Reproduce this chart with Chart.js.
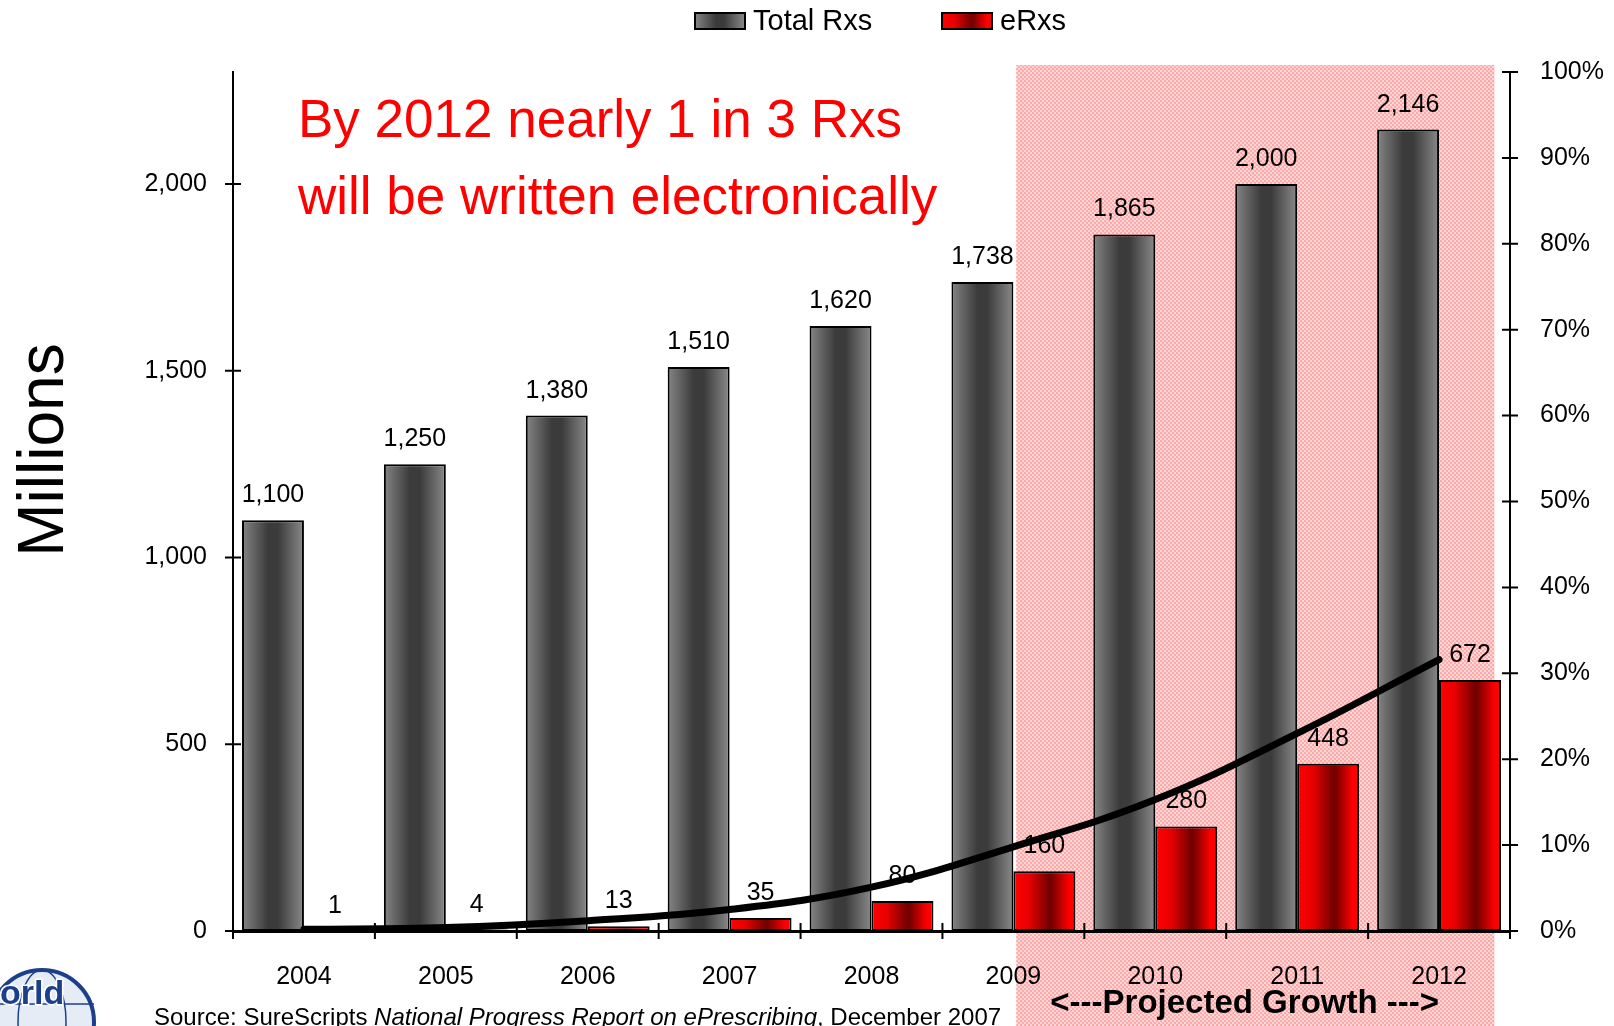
<!DOCTYPE html>
<html>
<head>
<meta charset="utf-8">
<script src="https://cdn.jsdelivr.net/npm/chart.js@4.4.1/dist/chart.umd.min.js"></script>
<style>
  html, body { margin: 0; padding: 0; background: #fff; }
  #wrap { width: 1614px; height: 1026px; position: relative; }
</style>
</head>
<body>
<div id="wrap"><canvas id="chartRxs"></canvas></div>
<script>
const years = ['2004', '2005', '2006', '2007', '2008', '2009', '2010', '2011', '2012'];
const totalRxs = [1100, 1250, 1380, 1510, 1620, 1738, 1865, 2000, 2146];
const eRxs = [1, 4, 13, 35, 80, 160, 280, 448, 672];
// share of scripts written electronically (%)
const eRxShare = [0.2, 0.4, 1.2, 2.5, 5.1, 9.8, 15.3, 23.0, 31.6];
const leftTicks = [0, 500, 1000, 1500, 2000];
const projectedFrom = 5;   // 2009 onwards is projected

const FONT = '"Liberation Sans", Arial, sans-serif';
const CAT_PCT = 0.873;
const GRAY_STOPS = [[0, '#858585'], [0.42, '#3b3b3b'], [0.58, '#3b3b3b'], [1, '#8a8a8a']];
const RED_STOPS = [[0, '#ff0000'], [0.25, '#e80000'], [0.6, '#6e0000'], [0.9, '#ff0000'], [1, '#ff0000']];

function makeGradient(c, x0, x1, stops) {
    const g = c.createLinearGradient(x0, 0, x1, 0);
    stops.forEach(s => g.addColorStop(s[0], s[1]));
    return g;
}

// gray bar sits left of the category centre, red bar right of it
function barFill(stops, side) {
    return function (ctx) {
        const xs = ctx.chart.scales.x;
        if (!xs || ctx.dataIndex === undefined || !isFinite(xs.getPixelForValue(1))) return stops[1][1];
        const step = xs.getPixelForValue(1) - xs.getPixelForValue(0);
        const w = step * CAT_PCT / 2;
        const c = xs.getPixelForValue(ctx.dataIndex);
        const left = side === 0 ? c - w : c;
        return makeGradient(ctx.chart.ctx, left, left + w, stops);
    };
}

function pinkPattern() {
    const p = document.createElement('canvas');
    p.width = 4; p.height = 4;
    const pc = p.getContext('2d');
    pc.fillStyle = '#ffd6d6';
    pc.fillRect(0, 0, 4, 4);
    pc.fillStyle = '#ffaaaa';
    pc.fillRect(0, 0, 2, 2);
    pc.fillRect(2, 2, 2, 2);
    pc.fillStyle = '#ff9c9c';
    pc.fillRect(1, 1, 1, 1);
    return p;
}

const decorPlugin = {
    id: 'decor',
    beforeDraw(chart) {
        const c = chart.ctx, xs = chart.scales.x, area = chart.chartArea;
        const x0 = xs.getPixelForValue(projectedFrom + 0.02);
        const x1 = xs.getPixelForValue(years.length - 1 + 0.39);
        c.save();
        c.fillStyle = c.createPattern(pinkPattern(), 'repeat');
        c.fillRect(x0, area.top - 7, x1 - x0, chart.height - area.top + 7);
        c.restore();
    },
    afterDatasetDraw(chart, args) {
        const meta = args.meta;
        if (meta.type !== 'bar') return;
        const c = chart.ctx;
        const values = chart.data.datasets[args.index].data;
        c.save();
        c.font = '25px ' + FONT;
        c.fillStyle = '#000';
        c.textAlign = 'center';
        c.textBaseline = 'alphabetic';
        meta.data.forEach((el, i) => {
            c.fillText(values[i].toLocaleString('en-US'), el.x, el.y - 18);
        });
        c.restore();
    },
    afterDraw(chart) {
        const c = chart.ctx, area = chart.chartArea;
        const xs = chart.scales.x, ys = chart.scales.y, y2 = chart.scales.y2;
        c.save();
        c.strokeStyle = '#000';
        c.lineWidth = 2;
        // tick marks crossing the axes
        c.beginPath();
        ys.ticks.forEach(t => {
            const y = ys.getPixelForValue(t.value);
            c.moveTo(area.left - 8, y); c.lineTo(area.left + 8, y);
        });
        y2.ticks.forEach(t => {
            const y = y2.getPixelForValue(t.value);
            c.moveTo(area.right - 8, y); c.lineTo(area.right + 8, y);
        });
        for (let i = 0; i <= years.length; i++) {
            const x = xs.getPixelForValue(i - 0.5);
            c.moveTo(x, area.bottom - 8); c.lineTo(x, area.bottom + 8);
        }
        c.stroke();

        // legend
        const legend = [
            { text: 'Total Rxs', x: 695, stops: GRAY_STOPS },
            { text: 'eRxs', x: 942, stops: RED_STOPS }
        ];
        c.font = '29px ' + FONT;
        c.textBaseline = 'middle';
        c.textAlign = 'left';
        legend.forEach(l => {
            c.fillStyle = makeGradient(c, l.x, l.x + 50, l.stops);
            c.fillRect(l.x, 13, 50, 16);
            c.lineWidth = 2;
            c.strokeRect(l.x, 13, 50, 16);
            c.fillStyle = '#000';
            c.fillText(l.text, l.x + 58, 22);
        });

        // annotation
        c.fillStyle = '#ff0000';
        c.font = '53px ' + FONT;
        c.textBaseline = 'alphabetic';
        c.fillText('By 2012 nearly 1 in 3 Rxs', 298, 137);
        c.fillText('will be written electronically', 298, 214);

        // y title
        c.save();
        c.translate(63, 450);
        c.rotate(-Math.PI / 2);
        c.textAlign = 'center';
        c.fillStyle = '#000';
        c.font = '64px ' + FONT;
        c.fillText('Millions', 0, 0);
        c.restore();

        // projected label
        c.fillStyle = '#000';
        c.textAlign = 'center';
        c.font = 'bold 33px ' + FONT;
        c.fillText('<---Projected Growth --->', xs.getPixelForValue(6.63), 1013);

        // source line
        c.textAlign = 'left';
        let sx = 154;
        const parts = [['Source: SureScripts ', ''], ['National Progress Report on ePrescribing', 'italic '], [', December 2007', '']];
        parts.forEach(p => {
            c.font = p[1] + '24px ' + FONT;
            c.fillText(p[0], sx, 1025);
            sx += c.measureText(p[0]).width;
        });

        // logo fragment
        c.beginPath();
        c.arc(42, 1022, 52, 0, Math.PI * 2);
        c.fillStyle = '#e6ecf6';
        c.fill();
        c.lineWidth = 4;
        c.strokeStyle = '#1c3f8c';
        c.stroke();
        c.lineWidth = 1.5;
        c.beginPath();
        c.ellipse(42, 1022, 24, 52, 0, 0, Math.PI * 2);
        c.moveTo(-10, 1004); c.lineTo(94, 1004);
        c.stroke();
        c.font = 'bold 34px ' + FONT;
        c.lineWidth = 3;
        c.strokeStyle = '#fff';
        c.strokeText('orld', 0, 1004);
        c.fillStyle = '#1c3f8c';
        c.fillText('orld', 0, 1004);
        c.restore();
    }
};

new Chart(document.getElementById('chartRxs'), {
    data: {
        labels: years,
        datasets: [
            {
                type: 'bar',
                label: 'Total Rxs',
                data: totalRxs,
                backgroundColor: barFill(GRAY_STOPS, 0),
                borderColor: '#000',
                borderWidth: 2,
                borderSkipped: false,
                categoryPercentage: CAT_PCT,
                barPercentage: 1,
                yAxisID: 'y',
                order: 1
            },
            {
                type: 'bar',
                label: 'eRxs',
                data: eRxs,
                backgroundColor: barFill(RED_STOPS, 1),
                borderColor: '#000',
                borderWidth: 2,
                borderSkipped: false,
                categoryPercentage: CAT_PCT,
                barPercentage: 1,
                yAxisID: 'y',
                order: 2
            },
            {
                type: 'line',
                label: 'eRx share',
                data: eRxShare,
                borderColor: '#000',
                borderWidth: 7,
                borderCapStyle: 'round',
                tension: 0.4,
                pointRadius: 0,
                yAxisID: 'y2',
                order: 0
            }
        ]
    },
    options: {
        responsive: true,
        maintainAspectRatio: false,
        animation: false,
        layout: { padding: { top: 72, left: 0, right: 0, bottom: 0 } },
        plugins: {
            legend: { display: false },
            title: { display: false },
            tooltip: { enabled: false }
        },
        scales: {
            x: {
                grid: { display: false, drawTicks: false },
                border: { display: true, color: '#000', width: 3 },
                ticks: { color: '#000', font: { family: FONT, size: 25 }, padding: 31, maxRotation: 0 },
                afterFit: s => { s.height = 95; }
            },
            y: {
                position: 'left',
                min: 0,
                max: 2300,
                grid: { display: false, drawTicks: false },
                border: { display: true, color: '#000', width: 2 },
                ticks: {
                    stepSize: 500,
                    color: '#000',
                    font: { family: FONT, size: 25 },
                    padding: 26,
                    callback: v => v.toLocaleString('en-US')
                },
                afterBuildTicks: s => { s.ticks = leftTicks.map(v => ({ value: v })); },
                afterFit: s => { s.width = 233; }
            },
            y2: {
                position: 'right',
                min: 0,
                max: 100,
                grid: { display: false, drawTicks: false },
                border: { display: true, color: '#000', width: 2 },
                ticks: {
                    stepSize: 10,
                    color: '#000',
                    font: { family: FONT, size: 25 },
                    padding: 30,
                    callback: v => v + '%'
                },
                afterFit: s => { s.width = 104; }
            }
        }
    },
    plugins: [decorPlugin]
});
</script>
</body>
</html>
